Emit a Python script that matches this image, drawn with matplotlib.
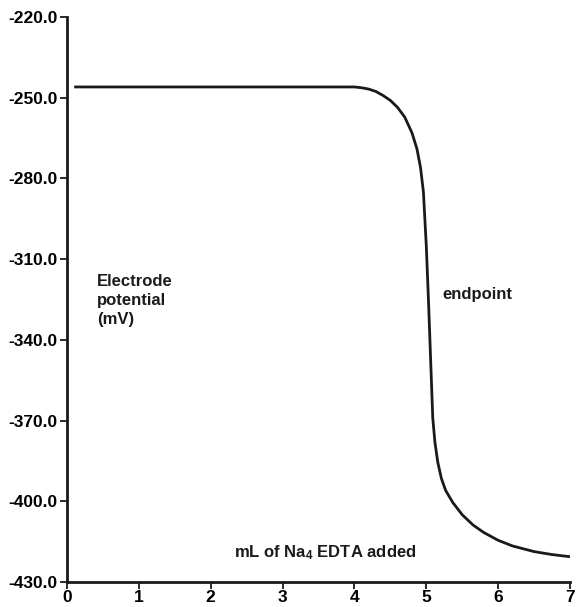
import matplotlib
matplotlib.use("Agg")
import matplotlib.pyplot as plt
import numpy as np

plt.rcParams['font.family'] = ['Liberation Sans', 'DejaVu Sans']
plt.rcParams['font.weight'] = 'bold'
plt.rcParams['mathtext.fontset'] = 'custom'
plt.rcParams['mathtext.rm'] = 'Liberation Sans:bold'
plt.rcParams['mathtext.default'] = 'rm'

volume_ml = [0.1, 1.0, 2.0, 3.0, 4.0, 4.1, 4.2, 4.3, 4.4, 4.5, 4.6, 4.7, 4.8, 4.87, 4.92,
             4.96, 5.0, 5.03, 5.06, 5.09, 5.12, 5.16, 5.21, 5.27, 5.37, 5.5, 5.65, 5.8,
             6.0, 6.2, 6.5, 6.75, 7.0]
potential_mv = [-246, -246, -246, -246, -246, -246.3, -246.8, -247.7, -249.2, -251, -253.6,
                -257.2, -263, -269, -276, -285, -305, -325, -347, -369, -378, -385.5,
                -391.5, -396, -400.5, -405, -408.8, -411.6, -414.5, -416.6, -418.7,
                -419.8, -420.6]
x_ticks = [0, 1, 2, 3, 4, 5, 6, 7]
y_ticks = [-430, -400, -370, -340, -310, -280, -250, -220]

fig = plt.figure(figsize=(5.77, 6.07), dpi=100)
ax = fig.add_axes([67/577, 1 - 582/607, (570-67)/577, (582-17)/607])

ax.plot(volume_ml, potential_mv, color='#1a1a1a', lw=2.0, solid_capstyle='butt',
        solid_joinstyle='round')

ax.set_xlim(0, 7)
ax.set_ylim(-430, -220)
ax.set_xticks(x_ticks)
ax.set_yticks(y_ticks)
ax.set_yticklabels([f"{v:.1f}" for v in y_ticks])
for s in ['top', 'right']:
    ax.spines[s].set_visible(False)
for s in ['left', 'bottom']:
    ax.spines[s].set_linewidth(2.0)
    ax.spines[s].set_color('#1a1a1a')
ax.tick_params(axis='both', direction='out', length=5, width=1.3, color='#1a1a1a',
               labelsize=12.5, pad=2)
ax.tick_params(axis='x', pad=1)

ax.text(0.42, -315.5, "Electrode\npotential\n(mV)", fontsize=12, fontweight='bold',
        va='top', ha='left', linespacing=1.35, color='#1a1a1a')
ax.text(5.22, -323, "endpoint", fontsize=12, fontweight='bold', va='center',
        ha='left', color='#1a1a1a')
ax.text(3.6, -420.7, "mL of Na$_4$ EDTA added", fontsize=12, fontweight='bold',
        va='baseline', ha='center', color='#1a1a1a')

fig.savefig("out.png", dpi=100)
